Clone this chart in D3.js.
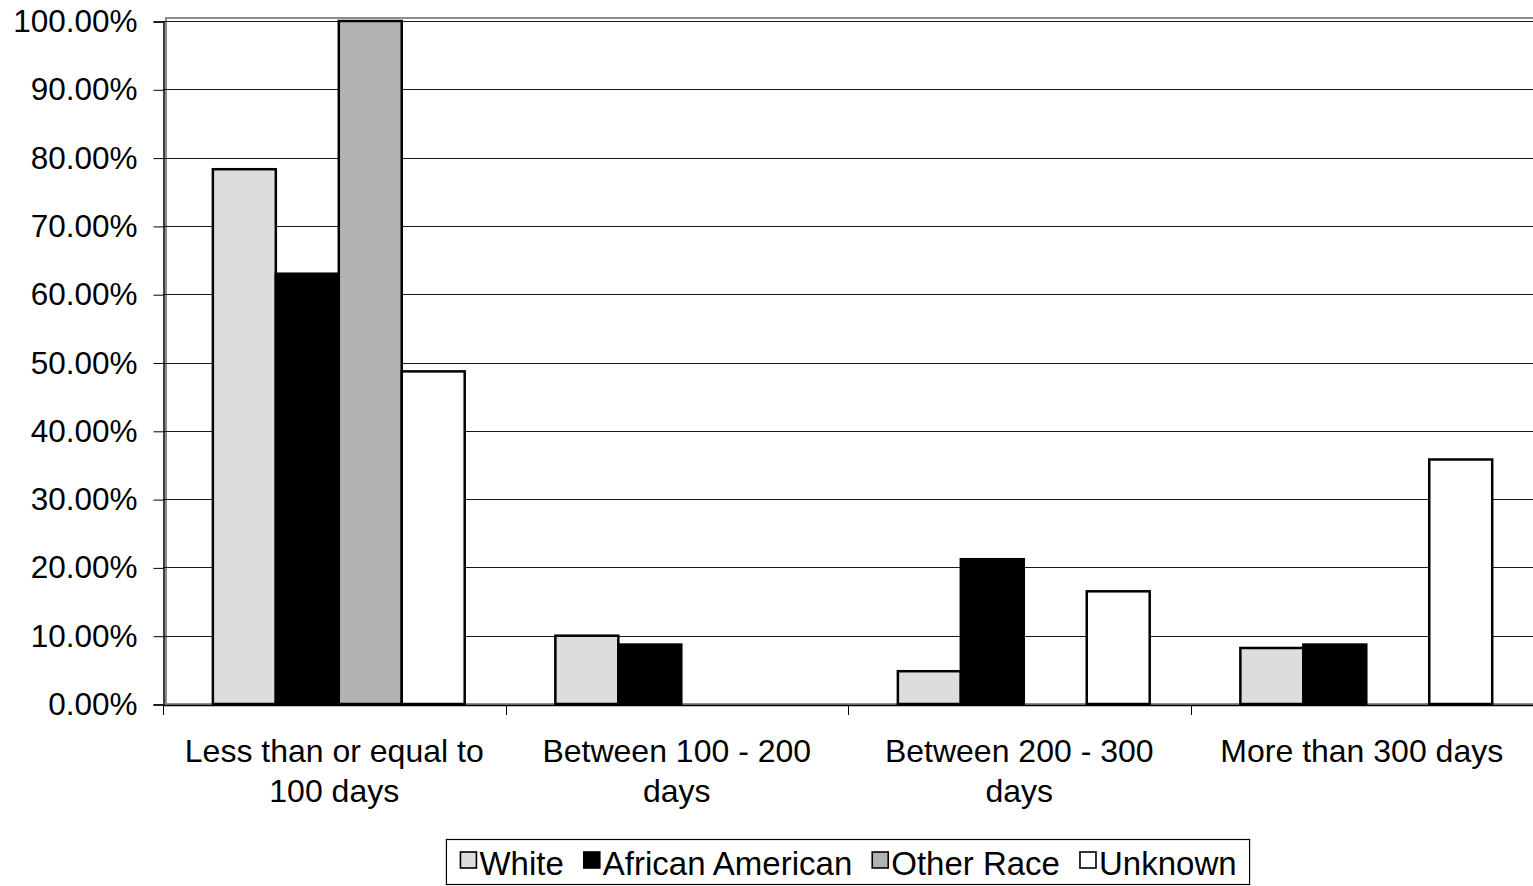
<!DOCTYPE html>
<html>
<head>
<meta charset="utf-8">
<script src="https://cdn.jsdelivr.net/npm/d3@7/dist/d3.min.js"></script>
<style>
  html, body { margin: 0; padding: 0; background: #fff; }
  svg { display: block; }
  text { font-family: "Liberation Sans", Arial, sans-serif; fill: #000; }
</style>
</head>
<body>
<svg id="chart" width="1533" height="886"></svg>
<script>
const categories = [
  ["Less than or equal to", "100 days"],
  ["Between 100 - 200", "days"],
  ["Between 200 - 300", "days"],
  ["More than 300 days"]
];
const seriesNames = ["White", "African American", "Other Race", "Unknown"];
const white = [0.783, 0.100, 0.048, 0.082];
const africanAmerican = [0.630, 0.087, 0.212, 0.087];
const otherRace = [1.000, 0, 0, 0];
const unknown = [0.487, 0, 0.165, 0.358];
const yTicks = [0, 0.1, 0.2, 0.3, 0.4, 0.5, 0.6, 0.7, 0.8, 0.9, 1.0];

const seriesValues = [white, africanAmerican, otherRace, unknown];
const fills = ["#DDDDDD", "#000000", "#B2B2B2", "#FFFFFF"];

const svg = d3.select("#chart");
const mLeft = 163, mRight = 1533, mTop = 21, mBottom = 705;

const catKeys = categories.map((c, i) => i);
const x0 = d3.scaleBand().domain(catKeys).range([mLeft, mRight]).padding(0);
const x1 = d3.scaleBand().domain(d3.range(seriesNames.length))
  .range([0, x0.bandwidth()]).paddingInner(0).paddingOuter(0.72).align(0.55);
const y = d3.scaleLinear().domain([0, 1]).range([mBottom - 1, mTop]);

// plot area border (gray)
svg.append("rect")
  .attr("x", mLeft + 3).attr("y", mTop - 3)
  .attr("width", mRight - mLeft).attr("height", mBottom - 1 - (mTop - 3))
  .attr("fill", "none").attr("stroke", "#8c8c8c").attr("stroke-width", 2);

// gridlines
svg.append("g").selectAll("line").data(yTicks.filter(d => d > 0)).join("line")
  .attr("x1", mLeft).attr("x2", mRight)
  .attr("y1", d => Math.round(y(d)) + 0.5).attr("y2", d => Math.round(y(d)) + 0.5)
  .attr("stroke", "#1a1a1a").attr("stroke-width", 1);

// bars
const groups = svg.append("g").selectAll("g").data(catKeys).join("g")
  .attr("transform", d => `translate(${x0(d)},0)`);
groups.selectAll("rect")
  .data(ci => seriesValues.map((vals, si) => ({ si, v: vals[ci] })).filter(d => d.v > 0))
  .join("rect")
  .attr("x", d => x1(d.si))
  .attr("y", d => y(d.v))
  .attr("width", x1.bandwidth())
  .attr("height", d => y(0) - y(d.v))
  .attr("fill", d => fills[d.si])
  .attr("stroke", "#000").attr("stroke-width", 2.5);

// y axis
const yAxis = d3.axisLeft(y).tickValues(yTicks).tickSize(10).tickPadding(16)
  .tickFormat(d => (d * 100).toFixed(2) + "%");
const gy = svg.append("g").attr("transform", `translate(${mLeft + 0.5},0.5)`).call(yAxis);
gy.select(".domain").attr("stroke", "#000").attr("stroke-width", 1.5);
gy.selectAll(".tick line").attr("stroke", "#000");
gy.selectAll(".tick text").style("font-size", "31.5px").style("font-family", '"Liberation Sans", Arial, sans-serif').attr("fill", "#000");

// x axis
const xAxisLine = svg.append("g");
xAxisLine.append("line").attr("x1", mLeft).attr("x2", mRight)
  .attr("y1", mBottom + 0.5).attr("y2", mBottom + 0.5)
  .attr("stroke", "#000").attr("stroke-width", 1.5);
const boundaries = catKeys.map(k => x0(k)).concat([mRight]);
xAxisLine.selectAll("line.tk").data(boundaries).join("line").attr("class", "tk")
  .attr("x1", d => Math.round(d) + 0.5).attr("x2", d => Math.round(d) + 0.5)
  .attr("y1", mBottom).attr("y2", mBottom + 10)
  .attr("stroke", "#000").attr("stroke-width", 1);

const labels = svg.append("g").selectAll("text").data(catKeys).join("text")
  .attr("text-anchor", "middle")
  .attr("x", d => x0(d) + x0.bandwidth() / 2)
  .attr("y", 762)
  .style("font-size", "32px");
labels.selectAll("tspan").data(d => categories[d]).join("tspan")
  .attr("x", function() { return d3.select(this.parentNode).attr("x"); })
  .attr("dy", (d, i) => i === 0 ? 0 : 40)
  .text(d => d);

// legend
const legend = svg.append("g");
const legendBox = legend.append("rect").attr("fill", "#fff").attr("stroke", "#000").attr("stroke-width", 1.2);
let lx = 0;
const items = [];
seriesNames.forEach((name, i) => {
  const g = legend.append("g");
  g.append("rect").attr("x", lx).attr("y", 852).attr("width", 16).attr("height", 16)
    .attr("fill", fills[i]).attr("stroke", "#000").attr("stroke-width", 1.6);
  const t = g.append("text").attr("x", lx + 19).attr("y", 875).style("font-size", "33px").text(name);
  const w = t.node().getComputedTextLength();
  lx += 19 + w + 20;
  items.push(g);
});
const contentW = lx - 20;
const boxW = contentW + 27;
const cx = (mLeft + mRight) / 2;
const boxX = cx - boxW / 2;
legendBox.attr("x", boxX).attr("y", 839.5).attr("width", boxW).attr("height", 45);
items.forEach(g => g.attr("transform", `translate(${boxX + 14},0)`));
</script>
</body>
</html>
